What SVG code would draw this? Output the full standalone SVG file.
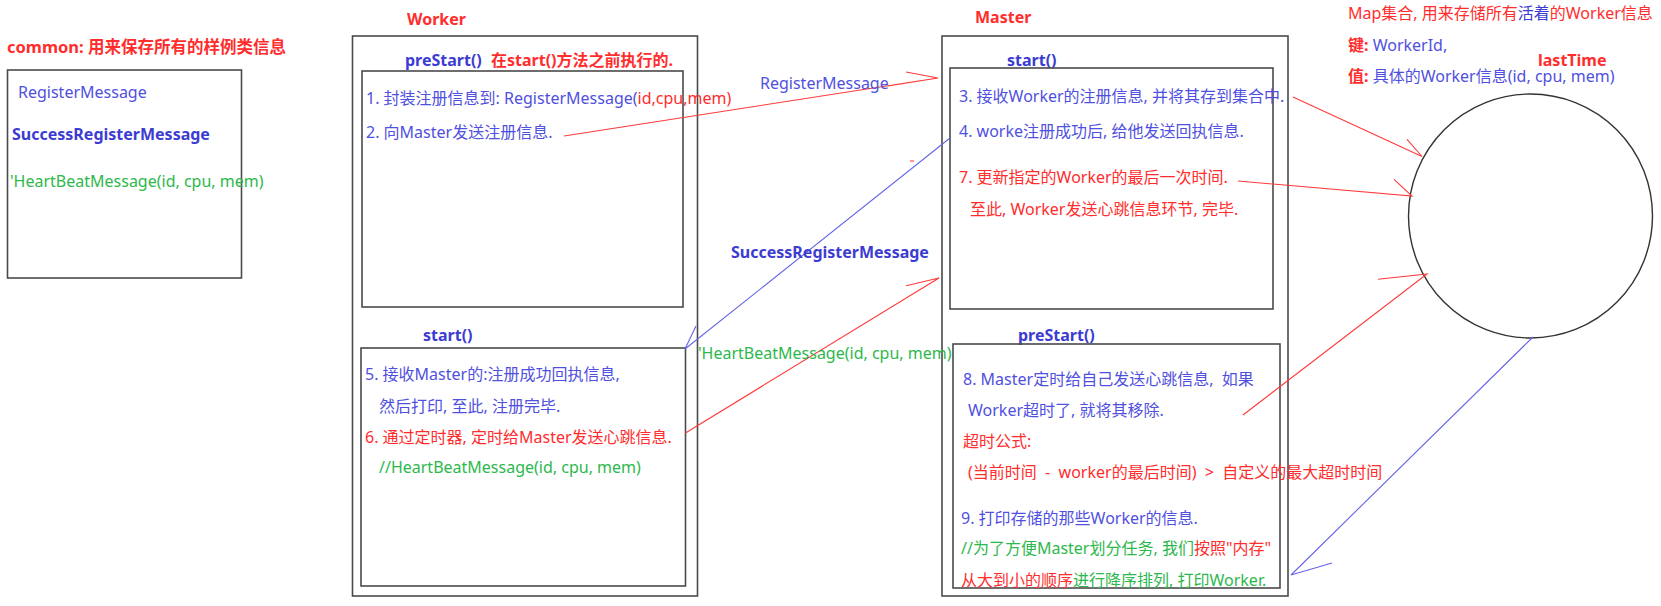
<svg xmlns="http://www.w3.org/2000/svg" width="1661" height="606" viewBox="0 0 1661 606">
<style>
text{font-family:"Noto Sans","Noto Sans CJK SC",sans-serif;font-size:16px;white-space:pre}
.r{fill:#FF2D2D}.b{fill:#5050E0}.g{fill:#2DB84D}
.bb{fill:#3C3CD2;font-weight:bold}.rb{fill:#FF2D2D;font-weight:bold}
.box{fill:none;stroke:#4a4a4a;stroke-width:1.6}
.lr{fill:none;stroke:#FF3A3A;stroke-width:1.1}
.lb{fill:none;stroke:#6464E6;stroke-width:1.1}
</style>
<rect width="1661" height="606" fill="#fff"/>
<g id="common">
<text x="7" y="52.5" class="rb" style="font-size:16.5px">common: 用来保存所有的样例类信息</text>
<rect class="box" x="7.5" y="70" width="234" height="208"/>
<text x="18" y="98" class="b">RegisterMessage</text>
<text x="12" y="140" class="bb">SuccessRegisterMessage</text>
<text x="10" y="187" class="g">'HeartBeatMessage(id, cpu, mem)</text>
</g>
<g id="worker">
<text x="407" y="25" class="rb">Worker</text>
<rect class="box" x="352.5" y="36" width="345" height="560"/>
</g>
<g id="worker-prestart">
<text x="405" y="66"><tspan class="bb">preStart()</tspan><tspan x="491" class="rb">在start()方法之前执行的.</tspan></text>
<rect class="box" x="362" y="71" width="321" height="236"/>
<text x="366" y="104"><tspan class="b">1. 封装注册信息到: RegisterMessage(</tspan><tspan class="r">id,cpu,mem)</tspan></text>
<text x="366" y="137.5" class="b">2. 向Master发送注册信息.</text>
</g>
<g id="worker-start">
<text x="423" y="341" class="bb">start()</text>
<rect class="box" x="361" y="348" width="324.5" height="238"/>
<text x="365" y="380" class="b">5. 接收Master的:注册成功回执信息,</text>
<text x="379" y="412" class="b">然后打印, 至此, 注册完毕.</text>
<text x="365" y="442.5" class="r">6. 通过定时器, 定时给Master发送心跳信息.</text>
<text x="379" y="473" class="g">//HeartBeatMessage(id, cpu, mem)</text>
</g>
<g id="master">
<text x="975" y="23" class="rb">Master</text>
<rect class="box" x="942" y="36" width="346" height="560"/>
</g>
<g id="master-start">
<text x="1007" y="66" class="bb">start()</text>
<rect class="box" x="950" y="68" width="323" height="241"/>
<text x="959" y="101.5" class="b">3. 接收Worker的注册信息, 并将其存到集合中.</text>
<text x="959" y="136.7" class="b">4. worke注册成功后, 给他发送回执信息.</text>
<text x="959" y="182.7" class="r">7. 更新指定的Worker的最后一次时间.</text>
<text x="970" y="215" class="r">至此, Worker发送心跳信息环节, 完毕.</text>
</g>
<g id="master-prestart">
<text x="1018" y="340.5" class="bb">preStart()</text>
<rect class="box" x="953" y="344" width="327" height="244"/>
<text x="963" y="385" class="b">8. Master定时给自己发送心跳信息,  如果</text>
<text x="968" y="416" class="b">Worker超时了, 就将其移除.</text>
<text x="963" y="446.5" class="r">超时公式:</text>
<text x="968" y="478" class="r">(当前时间  -  worker的最后时间)  &gt;  自定义的最大超时时间</text>
<text x="961" y="524" class="b">9. 打印存储的那些Worker的信息.</text>
<text x="961" y="554"><tspan class="g">//为了方便Master划分任务, 我们</tspan><tspan class="r">按照"内存"</tspan></text>
<text x="961" y="586"><tspan class="r">从大到小的顺序</tspan><tspan class="g">进行降序排列, 打印Worker.</tspan></text>
</g>
<g id="map">
<text x="1348" y="19"><tspan class="r">Map集合, 用来存储所有</tspan><tspan fill="#3C3CD2">活着</tspan><tspan class="r">的Worker信息</tspan></text>
<text x="1348" y="50.5"><tspan class="rb">键: </tspan><tspan class="b">WorkerId,</tspan></text>
<text x="1538" y="66" class="rb">lastTime</text>
<text x="1348" y="82"><tspan class="rb">值: </tspan><tspan class="b">具体的Worker信息(id, cpu, mem)</tspan></text>
<circle cx="1530.5" cy="216" r="122" fill="none" stroke="#333" stroke-width="1.4"/>
</g>
<g id="connectors">
<path class="lr" d="M564 136 L938 78 M906 72 L938 78 L888 86"/>
<text x="760" y="89" class="b">RegisterMessage</text>
<path class="lb" d="M950 138 L685 349 L696 326"/>
<text x="731" y="258" class="bb">SuccessRegisterMessage</text>
<path class="lr" d="M685.5 433 L939 278 L906 285.7"/>
<path class="lr" d="M910 161 L914 161"/>
<text x="698" y="359" class="g">'HeartBeatMessage(id, cpu, mem)</text>
<path class="lr" d="M1293 97 L1422 156.5 L1407 139.3"/>
<path class="lr" d="M1238 181 L1412 196 L1394 179.3"/>
<path class="lr" d="M1243 415 L1427 274 L1378 279.3"/>
<path class="lb" d="M1533 337 L1291 575 L1332 563"/>
</g>
</svg>
